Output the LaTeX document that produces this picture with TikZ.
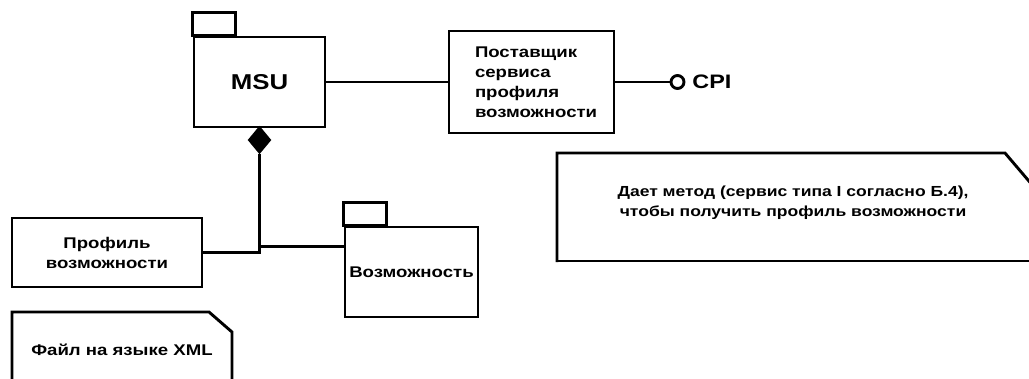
\documentclass[tikz,border=0pt]{standalone}
\usepackage{fontspec}
\setmainfont{Liberation Sans}[FakeStretch=1.2]
\usetikzlibrary{shapes.geometric}

\begin{document}
\begin{tikzpicture}[x=1pt, y=-1pt, line width=2.9pt]
\useasboundingbox (0,0) rectangle (1029,378);
\clip (0,0) rectangle (1029,378);

\tikzset{big/.style={font=\fontsize{21.5}{22}\selectfont\bfseries}}
\tikzset{small/.style={font=\fontsize{15.5}{20}\selectfont\bfseries}}

\tikzset{every node/.style={draw, rectangle, inner sep=0pt, line width=2.9pt}}
\node (msu)  at (259.5, 82)  [minimum width=131pt, minimum height=90pt, big] {MSU};
\node (prov) at (531.5, 82)  [minimum width=165pt, minimum height=102pt, small,
                              text width=113pt, align=left] {Поставщик\\сервиса\\профиля\\возможности};
\node (prof) at (107, 252.5) [minimum width=190pt, minimum height=69pt, small, align=center] {Профиль\\возможности};
\node (cap)  at (411.5, 272) [minimum width=133pt, minimum height=90pt, small] {\raisebox{-5pt}{Возможность}};
\node (cpi)  at (677.5, 82)  [circle, minimum size=13pt] {};
\node (dia)  at (259.5, 140) [diamond, fill=black, minimum width=21pt, minimum height=25pt] {};

% package tabs
\draw (msu.north west) rectangle ++(43, -23);
\draw (cap.north west) rectangle ++(43, -23);

% notes
\draw (557, 262) -- (557, 153) -- (1005, 153) -- (1045, 200);
\draw (1045, 261) -- (557, 261);
\draw (12, 385) -- (12, 312) -- (209, 312) -- (232, 332) -- (232, 385);

\tikzset{every node/.style={inner sep=0pt}}
\node (cpit) at (691, 82) [anchor=west, font=\fontsize{19.5}{22}\selectfont\bfseries] {CPI};
\node (meth) at (793, 203) [font=\fontsize{14.6}{20}\selectfont\bfseries, align=center] {Дает метод (сервис типа I согласно Б.4),\\чтобы получить профиль возможности};
\node (xml)  at (122, 350) [small] {Файл на языке XML};

\coordinate (jn) at (259.5, 246.5);

\tikzset{mystyle/.style={-, line width=2.9pt}}
\path (msu) edge [mystyle] (prov);
\path (prov) edge [mystyle] (cpi);
\draw (prof.east) -| (dia.south);
\draw (jn) -- (jn -| cap.west);
\end{tikzpicture}
\end{document}
